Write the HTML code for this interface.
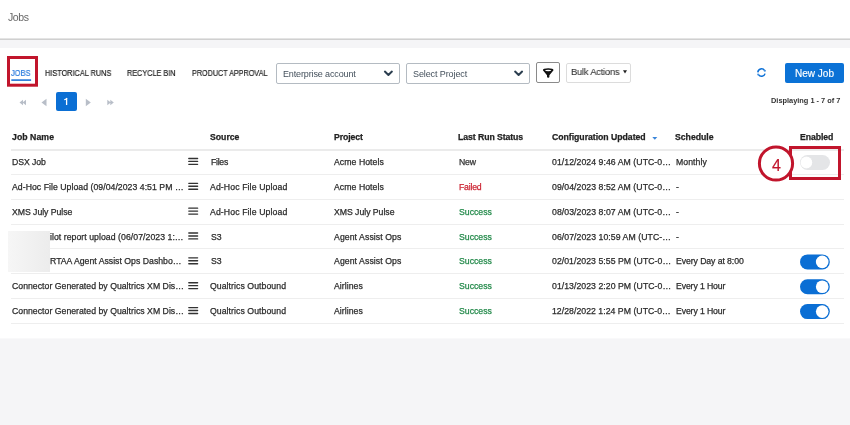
<!DOCTYPE html>
<html><head><meta charset="utf-8"><style>
html,body{margin:0;padding:0;}
body{width:850px;height:425px;position:relative;overflow:hidden;background:#f5f5f7;font-family:"Liberation Sans",sans-serif;}
.t{position:absolute;white-space:nowrap;-webkit-font-smoothing:antialiased;will-change:transform;-webkit-text-stroke:0.25px currentColor;}
</style></head><body>
<div style="position:absolute;left:0px;top:0px;width:850px;height:38px;background:#fff"></div>
<div style="position:absolute;left:0px;top:38px;width:850px;height:1px;background:#e4e4e4"></div>
<div style="position:absolute;left:0px;top:39px;width:850px;height:1px;background:#d0d0d0"></div>
<div style="position:absolute;left:0px;top:40px;width:850px;height:8px;background:#f5f5f7"></div>
<div style="position:absolute;left:0px;top:48px;width:850px;height:290px;background:#fff"></div>
<div style="position:absolute;left:0px;top:338px;width:850px;height:1px;background:#f9f9fa"></div>
<div class="t" style="left:7.92px;top:11.71px;font-size:10.5px;line-height:10.5px;color:#666;letter-spacing:-0.412px;-webkit-text-stroke:0;">Jobs</div>
<div class="t" style="left:11.30px;top:69.56px;font-size:8.2px;line-height:8.2px;color:#2a7bdc;transform-origin:0 0;transform:scaleX(0.9108);-webkit-text-stroke:0.2px currentColor;">JOBS</div>
<svg style="position:absolute;left:0;top:70px" width="40" height="14"><rect x="11.3" y="9.3" width="19.8" height="1.6" fill="#1f74d8"/></svg>
<div class="t" style="left:45.32px;top:69.56px;font-size:8.2px;line-height:8.2px;color:#1e1e1e;transform-origin:0 0;transform:scaleX(0.8947);-webkit-text-stroke:0.2px currentColor;">HISTORICAL RUNS</div>
<div class="t" style="left:127.32px;top:69.56px;font-size:8.2px;line-height:8.2px;color:#1e1e1e;transform-origin:0 0;transform:scaleX(0.8874);-webkit-text-stroke:0.2px currentColor;">RECYCLE BIN</div>
<div class="t" style="left:191.84px;top:69.56px;font-size:8.2px;line-height:8.2px;color:#1e1e1e;transform-origin:0 0;transform:scaleX(0.8803);-webkit-text-stroke:0.2px currentColor;">PRODUCT APPROVAL</div>
<svg style="position:absolute;left:0;top:50px" width="45" height="45"><rect x="8.5" y="7.5" width="28" height="27.7" fill="none" stroke="#c1152c" stroke-width="3"/></svg>
<div style="position:absolute;left:276px;top:63px;width:124px;height:21px;box-sizing:border-box;border:1px solid #b4bbc2;border-radius:2px;background:#fff"></div>
<div class="t" style="left:283.20px;top:69.58px;font-size:9.0px;line-height:9.0px;color:#44505c;letter-spacing:-0.130px;-webkit-text-stroke:0;">Enterprise account</div>
<svg style="position:absolute;left:383px;top:69px" width="12" height="9" viewBox="0 0 12 9"><g transform="translate(0.0 0.4)"><path d="M1.9 2.2 L5.4 5.5 L8.9 2.2" fill="none" stroke="#2b3e4f" stroke-width="2" stroke-linecap="round" stroke-linejoin="round"/></g></svg>
<div style="position:absolute;left:406px;top:63px;width:124px;height:21px;box-sizing:border-box;border:1px solid #b4bbc2;border-radius:2px;background:#fff"></div>
<div class="t" style="left:413.40px;top:69.58px;font-size:9.0px;line-height:9.0px;color:#44505c;letter-spacing:-0.101px;-webkit-text-stroke:0;">Select Project</div>
<svg style="position:absolute;left:513px;top:69px" width="12" height="9" viewBox="0 0 12 9"><g transform="translate(0.2 0.4)"><path d="M1.9 2.2 L5.4 5.5 L8.9 2.2" fill="none" stroke="#2b3e4f" stroke-width="2" stroke-linecap="round" stroke-linejoin="round"/></g></svg>
<div style="position:absolute;left:536px;top:62.3px;width:24px;height:20.3px;box-sizing:border-box;border:1px solid #8a8a8a;border-radius:2px;background:#fff"></div>
<svg style="position:absolute;left:542px;top:67px" width="13" height="12" viewBox="0 0 13 12"><path d="M0.9 3.2 A5.2 1.95 0 0 1 11.5 3.2 L7.4 8.2 L7.4 9.7 Q7.4 10.7 6.2 10.7 Q5.0 10.7 5.0 9.7 L5.0 8.2 Z" fill="#111"/><ellipse cx="6.2" cy="3.45" rx="3.1" ry="0.8" fill="#fff"/></svg>
<div style="position:absolute;left:566px;top:63px;width:64.6px;height:19.8px;box-sizing:border-box;border:1px solid #dcdcdc;border-radius:2px;background:#fff"></div>
<div class="t" style="left:570.70px;top:66.62px;font-size:9.9px;line-height:9.9px;color:#333;letter-spacing:-0.237px;-webkit-text-stroke:0.1px #333;transform-origin:0 0;transform:scaleX(0.95);">Bulk Actions</div>
<svg style="position:absolute;left:623px;top:70px" width="4" height="4" viewBox="0 0 4 4"><path d="M0 0.3 L4 0.3 L2 3.6 Z" fill="#222"/></svg>
<svg style="position:absolute;left:754px;top:66px" width="16" height="14" viewBox="0 0 16 14"><path d="M3.81 6.34 A3.7 3.7 0 0 1 10.64 4.64 M11.06 7.62 A3.7 3.7 0 0 1 4.43 8.67" fill="none" stroke="#0a6fd6" stroke-width="1.5"/><path d="M11.91 3.84 L9.70 5.22 L11.38 5.83 Z M3.19 9.51 L5.34 8.05 L3.65 7.51 Z" fill="#0a6fd6"/></svg>
<div style="position:absolute;left:785px;top:63px;width:58.5px;height:19.6px;background:#0b72d6;border-radius:2px"></div>
<div class="t" style="left:795.00px;top:68.83px;font-size:10px;line-height:10px;color:#fff;letter-spacing:0.017px;-webkit-text-stroke:0.15px #fff;">New Job</div>
<svg style="position:absolute;left:19px;top:99px" width="8" height="7" viewBox="0 0 8 7"><path d="M0.5 3.5 L4 0.8 L4 6.2 Z M3.5 3.5 L7 0.8 L7 6.2 Z" fill="#b8bec8"/></svg>
<svg style="position:absolute;left:41px;top:98px" width="7" height="9" viewBox="0 0 7 9"><g transform="translate(0.0 0.5)"><path d="M0.5 4 L5.5 0.3 L5.5 7.7 Z" fill="#b8bec8"/></g></svg>
<div style="position:absolute;left:56px;top:92.3px;width:20.5px;height:18.8px;background:#0b6fd4;border-radius:2px"></div>
<svg style="position:absolute;left:63px;top:97px" width="6" height="9" viewBox="0 0 6 9"><path d="M3.6 1 L3.6 8" stroke="#fff" stroke-width="1.3" fill="none"/><path d="M3.9 1 C3.4 2.2 2.4 2.6 1.2 2.7" stroke="#fff" stroke-width="1.1" fill="none"/></svg>
<svg style="position:absolute;left:85px;top:98px" width="7" height="9" viewBox="0 0 7 9"><g transform="translate(0.3 0.5)"><path d="M5.5 4 L0.5 0.3 L0.5 7.7 Z" fill="#b8bec8"/></g></svg>
<svg style="position:absolute;left:106px;top:99px" width="9" height="8" viewBox="0 0 9 8"><g transform="translate(0.3 0.0)"><path d="M7.5 3.5 L4 0.8 L4 6.2 Z M4.5 3.5 L1 0.8 L1 6.2 Z" fill="#b8bec8"/></g></svg>
<div class="t" style="left:771.18px;top:96.84px;font-size:7.4px;line-height:7.4px;color:#333;font-weight:700;letter-spacing:0.001px;-webkit-text-stroke:0;">Displaying 1 - 7 of 7</div>
<div class="t" style="left:12.20px;top:133.44px;font-size:8.7px;line-height:8.7px;color:#222;font-weight:700;letter-spacing:0.065px;">Job Name</div>
<div class="t" style="left:209.60px;top:133.44px;font-size:8.7px;line-height:8.7px;color:#222;font-weight:700;">Source</div>
<div class="t" style="left:334.06px;top:133.44px;font-size:8.7px;line-height:8.7px;color:#222;font-weight:700;letter-spacing:-0.087px;">Project</div>
<div class="t" style="left:458.06px;top:133.44px;font-size:8.7px;line-height:8.7px;color:#222;font-weight:700;letter-spacing:-0.068px;">Last Run Status</div>
<div class="t" style="left:551.82px;top:133.44px;font-size:8.7px;line-height:8.7px;color:#222;font-weight:700;letter-spacing:-0.022px;">Configuration Updated</div>
<div class="t" style="left:674.80px;top:133.44px;font-size:8.7px;line-height:8.7px;color:#222;font-weight:700;letter-spacing:-0.005px;">Schedule</div>
<div class="t" style="left:800.20px;top:133.44px;font-size:8.7px;line-height:8.7px;color:#222;font-weight:700;letter-spacing:-0.081px;">Enabled</div>
<svg style="position:absolute;left:652px;top:136px" width="7" height="5" viewBox="0 0 7 5"><g transform="translate(0.0 0.5)"><path d="M0.3 0.5 L5.3 0.5 L2.8 3.3 Z" fill="#3a86da"/></g></svg>
<div style="position:absolute;left:11px;top:149px;width:833px;height:2px;background:#ebebeb"></div>
<div class="t" style="left:12.18px;top:158.04px;font-size:8.7px;line-height:8.7px;color:#2b2b2b;letter-spacing:-0.083px;">DSX Job</div>
<svg style="position:absolute;left:186px;top:156px" width="15" height="11" viewBox="0 0 15 11"><g transform="translate(0.0 0.45)"><path d="M2.8 2 H11.6 M2.8 4.95 H11.6 M2.8 7.9 H11.6" stroke="#333" stroke-width="1.35" stroke-linecap="round"/></g></svg>
<div class="t" style="left:210.60px;top:158.04px;font-size:8.7px;line-height:8.7px;color:#2b2b2b;letter-spacing:-0.273px;">Files</div>
<div class="t" style="left:334.18px;top:158.04px;font-size:8.7px;line-height:8.7px;color:#2b2b2b;letter-spacing:0.054px;">Acme Hotels</div>
<div class="t" style="left:459.20px;top:158.04px;font-size:8.7px;line-height:8.7px;color:#333;letter-spacing:-0.178px;">New</div>
<div class="t" style="left:551.82px;top:158.04px;font-size:8.7px;line-height:8.7px;color:#2b2b2b;letter-spacing:0.062px;">01/12/2024 9:46 AM (UTC-0&#8230;</div>
<div class="t" style="left:676.40px;top:158.04px;font-size:8.7px;line-height:8.7px;color:#2b2b2b;letter-spacing:0.060px;">Monthly</div>
<div style="position:absolute;left:11px;top:173.8px;width:833px;height:1px;background:#eeeeee"></div>
<svg style="position:absolute;left:798px;top:153px" width="35" height="19" viewBox="0 0 35 19"><g transform="translate(0.0 0.5)"><rect x="2" y="1.5" width="30" height="15" rx="7.5" fill="#e4e5e7"/><circle cx="8.4" cy="9" r="5.9" fill="#fff" stroke="rgba(0,0,0,0.03)" stroke-width="0.5"/></g></svg>
<div class="t" style="left:11.80px;top:182.89px;font-size:8.7px;line-height:8.7px;color:#2b2b2b;letter-spacing:0.041px;">Ad-Hoc File Upload (09/04/2023 4:51 PM &#8230;</div>
<svg style="position:absolute;left:186px;top:181px" width="15" height="11" viewBox="0 0 15 11"><g transform="translate(0.0 0.3)"><path d="M2.8 2 H11.6 M2.8 4.95 H11.6 M2.8 7.9 H11.6" stroke="#333" stroke-width="1.35" stroke-linecap="round"/></g></svg>
<div class="t" style="left:210.18px;top:182.89px;font-size:8.7px;line-height:8.7px;color:#2b2b2b;letter-spacing:0.111px;">Ad-Hoc File Upload</div>
<div class="t" style="left:334.18px;top:182.89px;font-size:8.7px;line-height:8.7px;color:#2b2b2b;letter-spacing:0.054px;">Acme Hotels</div>
<div class="t" style="left:459.20px;top:182.89px;font-size:8.7px;line-height:8.7px;color:#cc2634;letter-spacing:-0.213px;">Failed</div>
<div class="t" style="left:551.82px;top:182.89px;font-size:8.7px;line-height:8.7px;color:#2b2b2b;letter-spacing:0.062px;">09/04/2023 8:52 AM (UTC-0&#8230;</div>
<div class="t" style="left:676.13px;top:182.89px;font-size:8.7px;line-height:8.7px;color:#2b2b2b;">-</div>
<div style="position:absolute;left:11px;top:198.65px;width:833px;height:1px;background:#eeeeee"></div>
<div class="t" style="left:11.80px;top:207.74px;font-size:8.7px;line-height:8.7px;color:#2b2b2b;letter-spacing:-0.036px;">XMS July Pulse</div>
<svg style="position:absolute;left:186px;top:206px" width="15" height="11" viewBox="0 0 15 11"><g transform="translate(0.0 0.15)"><path d="M2.8 2 H11.6 M2.8 4.95 H11.6 M2.8 7.9 H11.6" stroke="#333" stroke-width="1.35" stroke-linecap="round"/></g></svg>
<div class="t" style="left:210.18px;top:207.74px;font-size:8.7px;line-height:8.7px;color:#2b2b2b;letter-spacing:0.111px;">Ad-Hoc File Upload</div>
<div class="t" style="left:334.18px;top:207.74px;font-size:8.7px;line-height:8.7px;color:#2b2b2b;letter-spacing:-0.029px;">XMS July Pulse</div>
<div class="t" style="left:459.20px;top:207.74px;font-size:8.7px;line-height:8.7px;color:#23894a;">Success</div>
<div class="t" style="left:551.82px;top:207.74px;font-size:8.7px;line-height:8.7px;color:#2b2b2b;letter-spacing:0.062px;">08/03/2023 8:07 AM (UTC-0&#8230;</div>
<div class="t" style="left:676.13px;top:207.74px;font-size:8.7px;line-height:8.7px;color:#2b2b2b;">-</div>
<div style="position:absolute;left:11px;top:223.5px;width:833px;height:1px;background:#eeeeee"></div>
<div class="t" style="left:50.18px;top:232.59px;font-size:8.7px;line-height:8.7px;color:#2b2b2b;letter-spacing:0.051px;">ilot report upload (06/07/2023 1:&#8230;</div>
<svg style="position:absolute;left:186px;top:231.00px" width="14" height="10" viewBox="0 0 14 10"><path d="M2.8 2 H11.6 M2.8 4.95 H11.6 M2.8 7.9 H11.6" stroke="#333" stroke-width="1.35" stroke-linecap="round"/></svg>
<div class="t" style="left:210.82px;top:232.59px;font-size:8.7px;line-height:8.7px;color:#2b2b2b;letter-spacing:-0.050px;">S3</div>
<div class="t" style="left:334.18px;top:232.59px;font-size:8.7px;line-height:8.7px;color:#2b2b2b;letter-spacing:0.081px;">Agent Assist Ops</div>
<div class="t" style="left:459.20px;top:232.59px;font-size:8.7px;line-height:8.7px;color:#23894a;">Success</div>
<div class="t" style="left:551.82px;top:232.59px;font-size:8.7px;line-height:8.7px;color:#2b2b2b;letter-spacing:0.062px;">06/07/2023 10:59 AM (UTC-&#8230;</div>
<div class="t" style="left:676.13px;top:232.59px;font-size:8.7px;line-height:8.7px;color:#2b2b2b;">-</div>
<div style="position:absolute;left:11px;top:248.35px;width:833px;height:1px;background:#eeeeee"></div>
<div class="t" style="left:50.00px;top:257.44px;font-size:8.7px;line-height:8.7px;color:#2b2b2b;letter-spacing:0.016px;">RTAA Agent Assist Ops Dashbo&#8230;</div>
<svg style="position:absolute;left:186px;top:255px" width="15" height="11" viewBox="0 0 15 11"><g transform="translate(0.0 0.85)"><path d="M2.8 2 H11.6 M2.8 4.95 H11.6 M2.8 7.9 H11.6" stroke="#333" stroke-width="1.35" stroke-linecap="round"/></g></svg>
<div class="t" style="left:210.82px;top:257.44px;font-size:8.7px;line-height:8.7px;color:#2b2b2b;letter-spacing:-0.050px;">S3</div>
<div class="t" style="left:334.18px;top:257.44px;font-size:8.7px;line-height:8.7px;color:#2b2b2b;letter-spacing:0.081px;">Agent Assist Ops</div>
<div class="t" style="left:459.20px;top:257.44px;font-size:8.7px;line-height:8.7px;color:#23894a;">Success</div>
<div class="t" style="left:551.82px;top:257.44px;font-size:8.7px;line-height:8.7px;color:#2b2b2b;letter-spacing:0.050px;">02/01/2023 5:55 PM (UTC-0&#8230;</div>
<div class="t" style="left:676.40px;top:257.44px;font-size:8.7px;line-height:8.7px;color:#2b2b2b;letter-spacing:-0.081px;">Every Day at 8:00</div>
<div style="position:absolute;left:11px;top:273.2px;width:833px;height:1px;background:#eeeeee"></div>
<svg style="position:absolute;left:798px;top:252px" width="35" height="19" viewBox="0 0 35 19"><g transform="translate(0.0 0.9)"><rect x="2" y="1.5" width="29.8" height="15" rx="7.5" fill="#0a6ed4"/><circle cx="24.2" cy="9" r="6.3" fill="#fff"/></g></svg>
<div class="t" style="left:11.80px;top:282.29px;font-size:8.7px;line-height:8.7px;color:#2b2b2b;letter-spacing:0.025px;">Connector Generated by Qualtrics XM Dis&#8230;</div>
<svg style="position:absolute;left:186px;top:280px" width="15" height="11" viewBox="0 0 15 11"><g transform="translate(0.0 0.7)"><path d="M2.8 2 H11.6 M2.8 4.95 H11.6 M2.8 7.9 H11.6" stroke="#333" stroke-width="1.35" stroke-linecap="round"/></g></svg>
<div class="t" style="left:210.18px;top:282.29px;font-size:8.7px;line-height:8.7px;color:#2b2b2b;letter-spacing:0.068px;">Qualtrics Outbound</div>
<div class="t" style="left:334.18px;top:282.29px;font-size:8.7px;line-height:8.7px;color:#2b2b2b;letter-spacing:0.047px;">Airlines</div>
<div class="t" style="left:459.20px;top:282.29px;font-size:8.7px;line-height:8.7px;color:#23894a;">Success</div>
<div class="t" style="left:551.82px;top:282.29px;font-size:8.7px;line-height:8.7px;color:#2b2b2b;letter-spacing:0.050px;">01/13/2023 2:20 PM (UTC-0&#8230;</div>
<div class="t" style="left:676.40px;top:282.29px;font-size:8.7px;line-height:8.7px;color:#2b2b2b;letter-spacing:-0.117px;">Every 1 Hour</div>
<div style="position:absolute;left:11px;top:298.05px;width:833px;height:1px;background:#eeeeee"></div>
<svg style="position:absolute;left:798px;top:277px" width="35" height="19" viewBox="0 0 35 19"><g transform="translate(0.0 0.75)"><rect x="2" y="1.5" width="29.8" height="15" rx="7.5" fill="#0a6ed4"/><circle cx="24.2" cy="9" r="6.3" fill="#fff"/></g></svg>
<div class="t" style="left:11.80px;top:307.14px;font-size:8.7px;line-height:8.7px;color:#2b2b2b;letter-spacing:0.025px;">Connector Generated by Qualtrics XM Dis&#8230;</div>
<svg style="position:absolute;left:186px;top:305px" width="15" height="11" viewBox="0 0 15 11"><g transform="translate(0.0 0.55)"><path d="M2.8 2 H11.6 M2.8 4.95 H11.6 M2.8 7.9 H11.6" stroke="#333" stroke-width="1.35" stroke-linecap="round"/></g></svg>
<div class="t" style="left:210.18px;top:307.14px;font-size:8.7px;line-height:8.7px;color:#2b2b2b;letter-spacing:0.068px;">Qualtrics Outbound</div>
<div class="t" style="left:334.18px;top:307.14px;font-size:8.7px;line-height:8.7px;color:#2b2b2b;letter-spacing:0.047px;">Airlines</div>
<div class="t" style="left:459.20px;top:307.14px;font-size:8.7px;line-height:8.7px;color:#23894a;">Success</div>
<div class="t" style="left:551.65px;top:307.14px;font-size:8.7px;line-height:8.7px;color:#2b2b2b;letter-spacing:0.039px;">12/28/2022 1:24 PM (UTC-0&#8230;</div>
<div class="t" style="left:676.40px;top:307.14px;font-size:8.7px;line-height:8.7px;color:#2b2b2b;letter-spacing:-0.117px;">Every 1 Hour</div>
<div style="position:absolute;left:11px;top:322.9px;width:833px;height:1px;background:#eeeeee"></div>
<svg style="position:absolute;left:798px;top:302px" width="35" height="19" viewBox="0 0 35 19"><g transform="translate(0.0 0.6)"><rect x="2" y="1.5" width="29.8" height="15" rx="7.5" fill="#0a6ed4"/><circle cx="24.2" cy="9" r="6.3" fill="#fff"/></g></svg>
<div style="position:absolute;left:8px;top:230.9px;width:42px;height:40.7px;background:linear-gradient(90deg,#f6f6f6,#ececec)"></div>
<svg style="position:absolute;left:780px;top:140px" width="70" height="50"><rect x="10.5" y="7.5" width="49" height="31" fill="none" stroke="#c1152c" stroke-width="3"/></svg>
<svg style="position:absolute;left:757px;top:144px" width="39" height="39" viewBox="0 0 39 39"><g transform="translate(0.0 0.5)"><circle cx="19" cy="19" r="16.6" fill="#fff" stroke="#c1152c" stroke-width="3"/></g></svg>
<div class="t" style="left:772.20px;top:157.66px;font-size:16px;line-height:16px;color:#c1152c;-webkit-text-stroke:0.2px #c1152c;">4</div>
</body></html>
